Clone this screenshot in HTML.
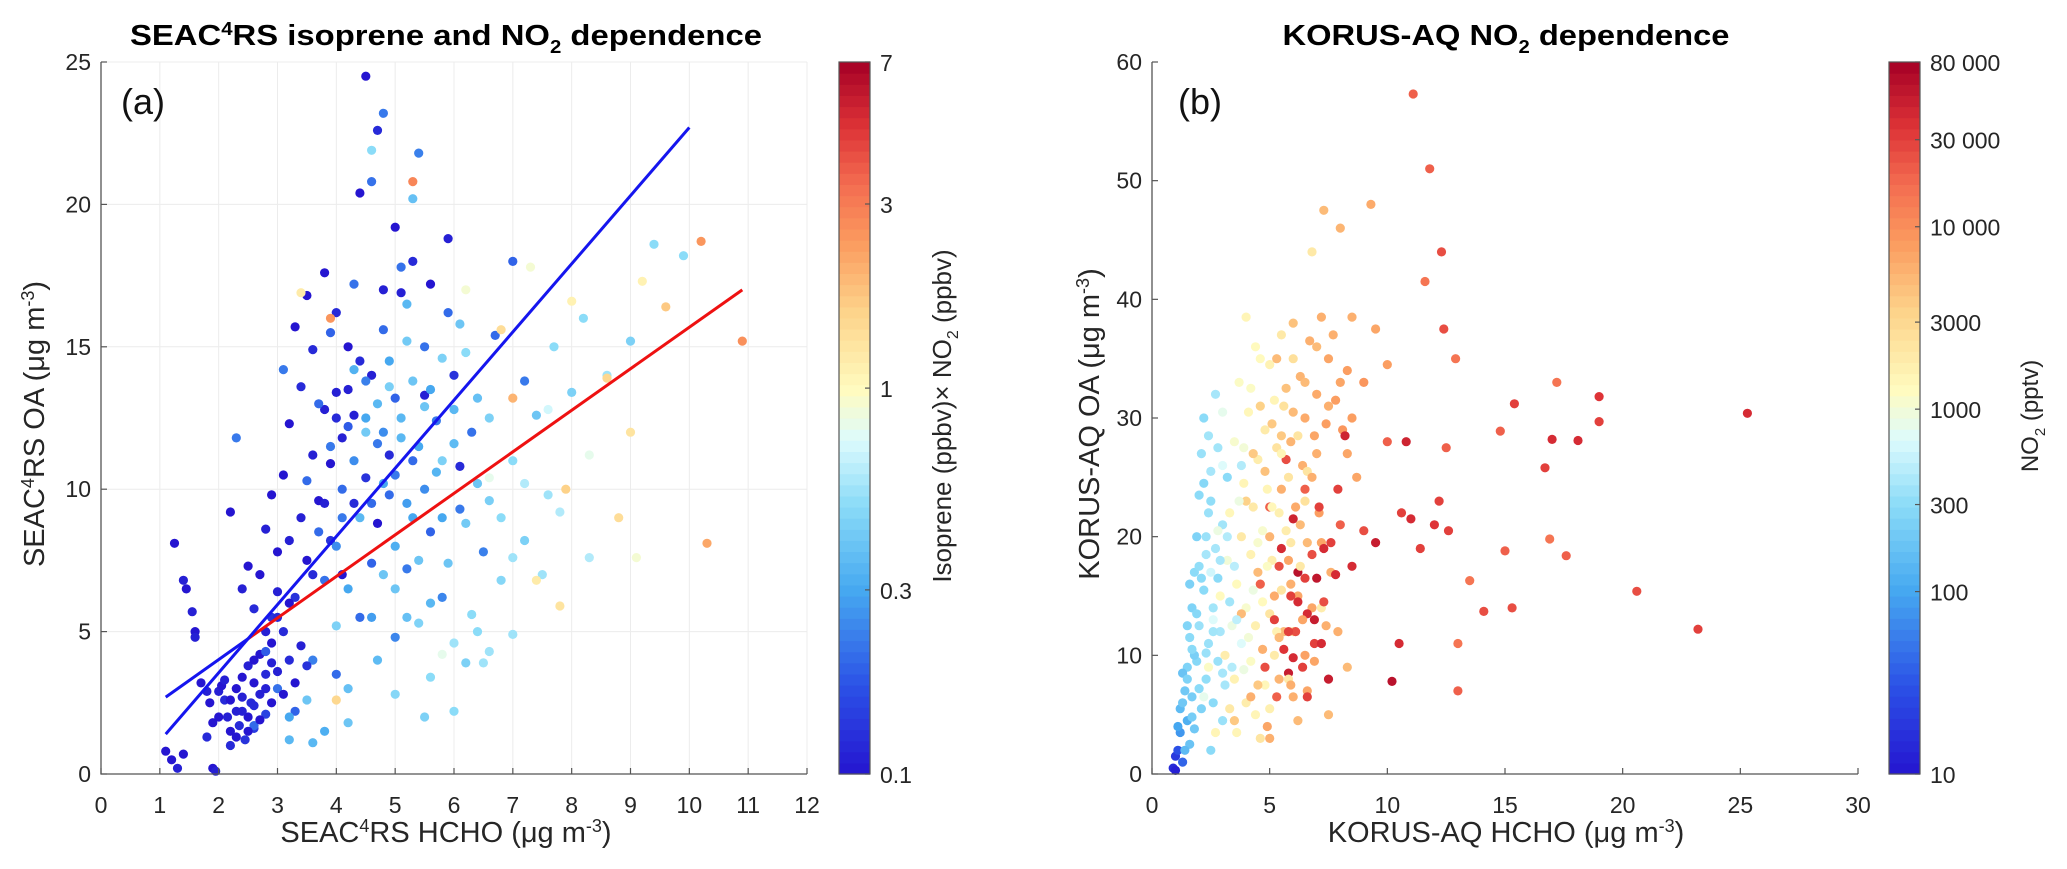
<!DOCTYPE html>
<html><head><meta charset="utf-8"><style>
html,body{margin:0;padding:0;background:#fff;}
svg{display:block;font-family:"Liberation Sans",sans-serif;}
</style></head><body>
<svg id="fig" width="2067" height="869" viewBox="0 0 2067 869" xmlns="http://www.w3.org/2000/svg"></svg>
<script>
// ---------- Panel (a) SEAC4RS data ----------
const seacHcho = [
1.1,1.2,1.3,1.4,1.25,1.4,1.45,1.55,1.6,1.6, 1.7,1.8,1.85,1.9,1.95,1.8,1.9,2.0,2.05,2.1, 2.15,2.2,2.2,2.3,2.3,2.35,2.4,2.4,2.45,2.5, 2.5,2.55,2.6,2.6,2.7,2.7,2.8,2.8,2.9,2.9,
2.2,2.4,2.5,2.6,2.7,2.8,2.9,2.9,3.0,3.0, 3.1,3.1,3.2,3.2,3.3,3.3,3.4,3.4,3.5,3.5, 3.6,3.6,3.7,3.8,3.8,3.9,3.9,4.0,4.0,4.1, 4.1,4.2,4.3,4.3,4.4,4.5,4.5,4.6,4.7,4.7, 4.8,4.9,5.0,5.1,5.3,5.6,5.9,6.0,6.1,5.5,
2.3,2.6,2.8,3.0,3.1,3.3,3.5,3.6,3.7,3.8, 3.9,4.0,4.1,4.2,4.3,4.4,4.5,4.6,4.6,4.7, 4.8,4.8,4.9,5.0,5.0,5.1,5.2,5.3,5.4,5.5, 5.6,5.7,5.8,5.9,6.1,6.3,6.5,6.7,7.0,7.2,
3.2,3.5,3.8,4.0,4.2,4.3,4.5,4.6,4.7,4.8, 4.9,5.0,5.0,5.1,5.2,5.3,5.3,5.4,5.5,5.6, 5.7,5.8,5.9,6.0,6.0,6.2,6.3,6.4,6.5,6.6, 6.8,7.0,7.0,7.2,7.4,7.5,7.7,7.8,8.0,8.2, 8.3,8.6,9.0,9.4,9.9,
3.4,3.9,4.0,5.3,5.8,6.2,6.6,6.8,7.0,7.3, 7.4,7.6,7.8,7.9,8.0,8.3,8.6,8.8,9.0,9.1, 9.2,9.6,10.2,10.3,10.9,
2.0,2.1,2.2,2.3,2.4,2.5,2.6,2.7,2.8,2.9, 3.0,3.1,3.2,3.3,3.4,3.5,2.6,2.8,3.0,3.2,
3.6,3.7,3.8,3.9,4.0,4.1,4.2,4.3,4.4,4.5, 4.6,4.7,4.8,4.9,5.0,5.1,5.2,5.3,5.4,5.5,
4.0,4.2,4.4,4.6,4.8,5.0,5.2,5.4,5.6,5.8, 5.6,5.8,6.0,6.2,6.4,6.6,6.8,7.0,6.1,5.2, 6.2,6.4,6.6,6.0,5.5,4.2,3.6,3.2,7.2,7.6];
const seacOA = [
0.8,0.5,0.2,0.7,8.1,6.8,6.5,5.7,5.0,4.8, 3.2,2.9,2.5,0.2,0.1,1.3,1.8,2.9,3.1,2.6, 2.0,1.5,1.0,3.0,2.2,1.7,3.4,2.7,1.2,2.0, 3.8,2.5,1.6,3.2,2.8,4.2,3.5,2.1,3.9,4.6,
9.2,6.5,7.3,5.8,7.0,8.6,5.5,9.8,6.4,7.8, 5.0,10.5,8.2,12.3,6.2,15.7,9.0,13.6,7.5,16.8, 11.2,14.9,9.6,12.8,17.6,8.2,10.9,13.4,16.2,7.0, 11.8,15.0,9.5,12.6,20.4,24.5,10.4,14.0,22.6,8.8, 17.0,11.2,19.2,16.9,18.0,17.2,18.8,14.0,10.8,13.3,
11.8,1.7,4.3,3.0,14.2,2.2,10.3,4.0,13.0,6.8, 15.5,3.5,9.0,12.2,17.2,5.5,13.8,20.8,7.4,11.6, 15.6,23.2,9.8,4.8,13.2,17.8,7.2,11.0,21.8,15.0, 8.5,12.4,6.2,16.2,9.3,12.0,7.8,15.4,18.0,13.8,
1.2,2.6,1.5,5.2,3.0,14.2,12.0,21.9,4.0,10.2, 13.6,6.5,2.8,11.8,15.2,9.0,20.2,5.3,12.9,3.4, 10.6,14.6,7.4,4.6,11.6,8.8,5.6,13.2,3.9,9.6, 6.8,11.0,4.9,8.2,12.6,7.0,15.0,9.2,13.4,16.0, 7.6,14.0,15.2,18.6,18.2,
16.9,16.0,2.6,20.8,4.2,17.0,10.4,15.6,13.2,17.8, 6.8,12.8,5.9,10.0,16.6,11.2,13.9,9.0,12.0,7.6, 17.3,16.4,18.7,8.1,15.2,
2.0,3.3,2.6,1.3,2.2,1.5,2.4,1.9,3.0,2.5, 3.6,2.8,4.0,3.2,4.5,3.8,4.0,5.0,5.5,6.0,
7.0,8.5,9.5,11.5,12.5,10.0,13.5,11.0,14.5,12.5, 9.5,13.0,12.0,14.5,10.5,12.5,9.5,13.8,11.5,10.0,
8.0,6.5,9.0,5.5,7.0,8.0,5.5,7.5,6.0,9.0, 13.5,11.0,12.8,14.8,10.2,12.5,9.0,7.6,15.8,16.5, 3.9,5.0,4.3,2.2,2.0,1.8,1.1,2.0,10.2,9.8];
const seacIsoNO2 = [
0.1,0.1,0.11,0.1,0.1,0.11,0.1,0.11,0.1,0.11, 0.1,0.11,0.1,0.1,0.11,0.12,0.1,0.11,0.1,0.12, 0.11,0.1,0.12,0.1,0.11,0.12,0.1,0.11,0.13,0.1, 0.11,0.12,0.14,0.1,0.11,0.1,0.12,0.15,0.11,0.1,
0.1,0.11,0.1,0.12,0.1,0.11,0.13,0.1,0.11,0.1, 0.12,0.1,0.11,0.1,0.13,0.1,0.11,0.12,0.1,0.1, 0.11,0.12,0.1,0.11,0.1,0.13,0.1,0.11,0.12,0.1, 0.11,0.1,0.12,0.11,0.1,0.1,0.13,0.11,0.12,0.1, 0.11,0.12,0.1,0.11,0.12,0.1,0.11,0.13,0.12,0.11,
0.22,0.2,0.18,0.21,0.22,0.19,0.2,0.23,0.2,0.21, 0.19,0.2,0.22,0.18,0.21,0.2,0.23,0.21,0.19,0.22, 0.2,0.22,0.2,0.24,0.19,0.21,0.22,0.2,0.23,0.21, 0.19,0.22,0.24,0.2,0.22,0.21,0.23,0.2,0.19,0.22,
0.35,0.4,0.32,0.45,0.38,0.33,0.42,0.5,0.36,0.3, 0.44,0.4,0.48,0.35,0.42,0.3,0.38,0.46,0.4,0.5, 0.34,0.45,0.4,0.55,0.36,0.42,0.5,0.38,0.55,0.44, 0.48,0.5,0.55,0.45,0.4,0.55,0.5,0.6,0.45,0.5, 0.6,0.55,0.45,0.5,0.5,
1.2,2.5,1.5,2.8,0.8,0.9,0.8,1.4,2.0,0.9, 1.2,0.7,1.3,1.6,1.1,0.8,1.5,1.4,1.3,0.9, 1.1,1.7,2.5,2.2,2.6,
0.1,0.11,0.1,0.1,0.11,0.1,0.12,0.1,0.11,0.1, 0.11,0.1,0.12,0.1,0.11,0.13,0.1,0.11,0.12,0.1,
0.12,0.2,0.11,0.22,0.12,0.2,0.11,0.25,0.12,0.3, 0.2,0.35,0.25,0.3,0.22,0.35,0.28,0.4,0.3,0.25,
0.25,0.3,0.35,0.28,0.4,0.32,0.38,0.4,0.35,0.3, 0.3,0.45,0.35,0.5,0.4,0.45,0.5,0.55,0.4,0.35, 0.45,0.5,0.55,0.5,0.45,0.4,0.35,0.3,0.6,0.55];
// Regression lines (endpoints in data units)
const blueFitX = [1.1, 10.0];
const blueFitY = [1.4, 22.7];
const redFitX = [2.5, 10.9];
const redFitY = [4.75, 17.0];
const blueShortX = [1.1, 2.5];
const blueShortY = [2.7, 4.75];
const seacXTicks = [0,1,2,3,4,5,6,7,8,9,10,11,12];
const seacYTicks = [0,5,10,15,20,25];
const seacCbTicks = [0.1,0.3,1,3,7];
const seacCbLabels = ["0.1","0.3","1","3","7"];

// ---------- Panel (b) KORUS-AQ data ----------
const korusHcho = [
0.9,1.0,1.0,1.1,1.2,1.2,1.3,1.4,1.5,1.5, 1.6,1.6,1.7,1.7,1.8,1.8,1.9,1.9,2.0,2.0, 2.1,2.1,2.2,2.2,2.3,2.3,2.4,2.4,2.5,2.5, 2.6,2.6,2.7,2.8,2.8,2.9,3.0,3.0,3.1,3.2, 1.3,1.5,1.8,2.0,2.2,1.6,2.4,2.7,1.1,3.3,
2.2,2.4,2.6,2.7,2.8,2.9,3.0,3.1,3.2,3.3, 3.3,3.4,3.5,3.5,3.6,3.7,3.8,3.8,3.9,4.0, 4.0,4.1,4.2,4.2,4.3,4.4,4.4,4.5,4.6,4.6, 4.7,4.8,4.8,4.9,5.0,5.0,5.1,5.2,5.3,5.4, 5.5,5.5,5.6,5.8,5.9,6.0,6.2,6.5,6.8,7.2, 2.5,3.0,3.6,4.0,5.0,
3.5,3.8,4.0,4.2,4.3,4.5,4.6,4.7,4.8,4.9, 5.0,5.1,5.2,5.3,5.4,5.5,5.6,5.7,5.8,5.9, 6.0,6.0,6.1,6.2,6.3,6.4,6.5,6.5,6.6,6.7, 6.8,6.9,7.0,7.1,7.2,7.3,7.4,7.5,7.6,7.8, 8.0,8.1,8.3,8.5,8.7,9.0,9.3,8.3,7.9,7.5, 5.0,6.2,6.6,9.5,10.0,
4.6,4.8,5.0,5.2,5.3,5.5,5.6,5.7,5.8,5.9, 6.0,6.1,6.2,6.4,6.5,6.6,6.8,6.9,7.0,7.1, 7.3,7.5,7.6,7.8,8.0,8.2,8.5,9.0,9.5,10.0, 10.2,10.5,10.6,10.8,11.0,11.1,11.4,11.6,11.8,12.0, 12.2,12.3,12.5,12.6,12.9,13.0,13.0,13.5,14.1,14.8, 15.3,15.4,16.7,17.0,17.2,17.6,18.1,19.0,19.0,20.6, 23.2,25.3,16.9,15.0,12.4,
1.3,1.5,1.7,1.9,2.1,2.3,2.5,1.4,1.7,2.0, 2.3,2.6,2.9,3.2,3.4,3.6,3.8,3.0,2.8,3.5,
3.9,4.1,4.3,4.5,4.7,4.9,5.1,5.3,5.5,5.7, 3.7,3.9,4.2,4.6,5.2,6.0,6.3,6.6,4.4,5.8,
5.5,6.0,6.5,7.0,7.5,8.0,8.5,6.3,6.8,7.2, 5.9,6.4,5.4,5.9,6.9,7.4,7.0,7.7,8.3,4.5,
5.8,6.2,6.5,6.9,7.2,6.6,7.3,7.9,5.4,6.0];
const korusOA = [
0.5,1.5,0.3,2.0,3.5,5.5,1.0,7.0,4.5,9.0, 2.5,11.5,6.5,14.0,3.8,17.0,9.5,20.0,12.5,23.5, 5.5,27.0,15.5,30.0,8.0,18.5,11.0,22.0,25.5,2.0, 14.0,6.0,19.0,9.5,16.5,12.0,4.5,21.0,7.5,25.0, 8.5,12.5,10.0,17.5,24.5,16.0,28.5,32.0,4.0,14.5,
6.5,9.0,13.0,3.5,20.5,15.0,26.0,10.0,18.0,5.5, 22.0,12.5,28.0,8.0,16.0,33.0,20.0,11.0,24.5,6.0, 14.0,30.5,18.5,9.5,22.5,36.0,12.5,26.5,16.0,3.0, 20.5,29.0,7.5,24.0,13.5,34.5,18.0,10.0,27.5,22.0, 15.5,37.0,31.0,25.0,19.5,12.0,28.5,23.0,44.0,14.0, 17.0,30.5,3.5,38.5,5.5,
4.5,13.5,23.0,6.5,27.0,17.0,31.0,10.5,25.5,4.0, 20.0,29.5,15.0,35.0,8.0,24.0,12.0,32.5,18.0,28.0, 6.5,38.0,22.5,15.0,33.5,26.0,10.0,30.0,19.5,36.5, 14.0,28.5,32.0,22.0,38.5,47.5,29.5,35.0,17.0,31.5, 46.0,29.0,34.0,38.5,25.0,33.0,48.0,9.0,12.0,5.0, 3.0,4.5,7.0,37.5,34.5,
16.0,9.0,22.5,13.0,6.5,19.0,10.5,26.5,8.5,15.0, 21.5,12.0,17.0,9.0,24.0,13.5,18.5,11.0,16.5,22.5, 14.5,8.0,19.5,16.8,21.0,28.5,17.5,20.5,19.5,28.0, 7.8,11.0,22.0,28.0,21.5,57.3,19.0,41.5,51.0,21.0, 23.0,44.0,27.5,20.5,35.0,7.0,11.0,16.3,13.7,28.9, 14.0,31.2,25.8,28.2,33.0,18.4,28.1,31.8,29.7,15.4, 12.2,30.4,19.8,18.8,37.5,
6.0,8.0,10.5,13.5,16.5,20.0,23.0,2.0,4.8,7.2, 10.2,12.0,18.0,20.0,9.0,13.0,26.0,8.5,27.5,17.5,
8.8,11.5,15.5,19.5,14.5,17.5,22.5,12.0,27.0,20.5, 23.0,27.5,32.5,35.0,31.5,35.0,17.5,25.5,5.0,8.0,
28.5,30.5,33.0,27.0,31.0,33.0,30.0,21.0,25.0,19.5, 16.0,13.0,11.5,7.5,9.5,12.5,36.0,37.0,27.0,7.5,
12.0,14.5,16.5,13.0,11.0,6.5,19.0,24.0,17.5,9.8];
const korusNO2 = [
15,20,12,30,80,150,40,200,120,250, 180,300,220,250,200,300,280,250,350,300, 250,350,300,300,320,400,350,350,400,300, 380,300,400,350,300,400,350,380,400,300, 180,260,230,320,280,240,380,400,100,380,
800,1200,700,1500,900,1300,700,1800,1000,2000, 1400,900,1100,1600,1300,1200,2000,700,1500,1800, 1100,1400,1600,1200,2000,1300,1700,1800,1500,2200, 1100,1900,1400,1500,2200,1600,1800,1900,2300,1700, 2200,2000,2400,2200,2000,2400,2200,2400,2000,1800, 600,800,1500,1500,1700,
4000,5000,3500,6000,4000,5000,3500,6000,4500,7000, 5500,4000,6500,5000,5500,6000,5000,4500,7000,5500, 6000,4500,6500,7000,5500,6000,7500,6500,5000,6000, 7000,7000,6500,8000,6000,5000,8000,7000,6000,8000, 5500,9000,8000,6000,7000,9000,6500,5000,6000,5000, 6000,5000,7000,7000,8000,
20000,25000,20000,30000,20000,40000,35000,25000,50000,30000, 45000,25000,60000,30000,20000,40000,25000,30000,55000,30000, 25000,50000,30000,40000,20000,45000,40000,25000,50000,20000, 60000,40000,30000,45000,40000,20000,30000,15000,20000,35000, 30000,25000,20000,30000,15000,20000,15000,15000,25000,20000, 25000,30000,30000,40000,15000,20000,40000,35000,30000,25000, 30000,40000,15000,20000,25000,
200,250,300,280,300,350,320,150,220,300, 350,380,400,450,450,500,450,400,380,480,
900,1000,900,1100,1300,1200,1400,1600,1500,1800, 900,1000,1200,1300,1500,2500,2000,2200,1500,2000,
4000,5000,5000,6000,6000,7000,8000,5000,6000,7000, 6000,7000,5000,6000,7000,6000,5000,6000,7000,4000,
30000,40000,30000,50000,40000,30000,40000,30000,25000,40000];
const korusXTicks = [0,5,10,15,20,25,30];
const korusYTicks = [0,10,20,30,40,50,60];
const korusCbTicks = [10,100,300,1000,3000,10000,30000,80000];
const korusCbLabels = ["10","100","300","1000","3000","10 000","30 000","80 000"];

// ---------- helpers ----------
const NS = "http://www.w3.org/2000/svg";
const svg = document.getElementById("fig");
function mk(tag, attrs, parent){
  const e = document.createElementNS(NS, tag);
  for (const k in attrs) e.setAttribute(k, attrs[k]);
  (parent||svg).appendChild(e);
  return e;
}
const cmapStops = [
 [0.00,[37,21,208]],[0.12,[43,79,230]],[0.26,[70,169,240]],[0.38,[140,220,248]],
 [0.47,[221,251,253]],[0.54,[255,251,191]],[0.65,[253,211,138]],[0.75,[251,154,94]],
 [0.83,[243,107,80]],[0.91,[221,50,54]],[1.00,[165,0,38]]];
function cmap(t){
  t = Math.max(0, Math.min(1, t));
  for (let i=1;i<cmapStops.length;i++){
    if (t <= cmapStops[i][0]){
      const a = cmapStops[i-1], b = cmapStops[i];
      const f = (t-a[0])/(b[0]-a[0]);
      const c = a[1].map((v,j)=>Math.round(v+(b[1][j]-v)*f));
      return "rgb("+c.join(",")+")";
    }
  }
  return "rgb(165,0,38)";
}
const TOP = 62, BOT = 774;
const TXT = "#262626";

function panel(cfg){
  const g = mk("g", {});
  
  
  const sx = v => cfg.x0 + (v - cfg.xmin)/(cfg.xmax - cfg.xmin)*(cfg.x1 - cfg.x0);
  const sy = v => BOT - (v - cfg.ymin)/(cfg.ymax - cfg.ymin)*(BOT - TOP);
  const lc = v => (Math.log(v) - Math.log(cfg.cmin))/(Math.log(cfg.cmax) - Math.log(cfg.cmin));
  if (cfg.grid){
    cfg.xTicks.forEach(t=>{ const l = mk("line",{x1:sx(t),x2:sx(t),y1:TOP,y2:BOT,stroke:"#ececec","stroke-width":1},g);
        });
    cfg.yTicks.forEach(t=>{ const l = mk("line",{x1:cfg.x0,x2:cfg.x1,y1:sy(t),y2:sy(t),stroke:"#ececec","stroke-width":1},g);
        });
  }
  const pg = mk("g",{},g);
  
  
  for (let i=0;i<cfg.xs.length;i++){
    const c = mk("circle",{cx:sx(cfg.xs[i]).toFixed(1),cy:sy(cfg.ys[i]).toFixed(1),r:4.6,fill:cmap(lc(cfg.cs[i]))},pg);
    
    
  }
  (cfg.lines||[]).forEach(L=>{
    const l = mk("line",{x1:sx(L.x[0]),y1:sy(L.y[0]),x2:sx(L.x[1]),y2:sy(L.y[1]),stroke:L.color,"stroke-width":3},g);
    
    
  });
  const ax = mk("path",{d:`M${cfg.x0},${TOP} L${cfg.x0},${BOT} L${cfg.x1},${BOT}`,fill:"none",stroke:"#555","stroke-width":1.3},g);
   
  cfg.xTicks.forEach(t=>{
    mk("line",{x1:sx(t),x2:sx(t),y1:BOT,y2:BOT-6,stroke:"#555","stroke-width":1.2},g);
    const tx = mk("text",{x:sx(t),y:813,"text-anchor":"middle","font-size":23,fill:TXT},g);
    tx.textContent = t;
     
  });
  cfg.yTicks.forEach(t=>{
    mk("line",{x1:cfg.x0,x2:cfg.x0+6,y1:sy(t),y2:sy(t),stroke:"#555","stroke-width":1.2},g);
    const tx = mk("text",{x:cfg.x0-10,y:sy(t)+8,"text-anchor":"end","font-size":23,fill:TXT},g);
    tx.textContent = t;
     
  });
  const cb = mk("g",{},g);
  
  
  const N = 64, h = (BOT-TOP)/N;
  for (let i=0;i<N;i++){
    mk("rect",{x:cfg.cbx,y:BOT-(i+1)*h,width:cfg.cbw,height:h+0.6,fill:cmap((i+0.5)/N)},cb);
  }
  mk("rect",{x:cfg.cbx,y:TOP,width:cfg.cbw,height:BOT-TOP,fill:"none",stroke:"#555","stroke-width":1.2},cb);
  cfg.cbTicks.forEach((t,i)=>{
    const y = BOT - lc(t)*(BOT-TOP);
    mk("line",{x1:cfg.cbx+cfg.cbw-5,x2:cfg.cbx+cfg.cbw,y1:y,y2:y,stroke:"#555","stroke-width":1.2},cb);
    const tx = mk("text",{x:cfg.cbx+cfg.cbw+10,y:y+9,"font-size":23,fill:TXT},cb);
    tx.textContent = cfg.cbLabels[i];
     
  });
  return g;
}

panel({name:"seac4rs-panel", x0:101, x1:807, xmin:0, xmax:12, ymin:0, ymax:25, grid:true,
  xs:seacHcho, ys:seacOA, cs:seacIsoNO2, cmin:0.1, cmax:7,
  xTicks:seacXTicks, yTicks:seacYTicks, cbTicks:seacCbTicks, cbLabels:seacCbLabels,
  cbx:839, cbw:31,
  lines:[{x:redFitX,y:redFitY,color:"#ee1111",name:"red-fit-line"},
         {x:blueFitX,y:blueFitY,color:"#1515ee",name:"blue-fit-line"},
         {x:blueShortX,y:blueShortY,color:"#1515ee",name:"blue-fit-line-low"}]});
panel({name:"korus-aq-panel", x0:1152, x1:1858, xmin:0, xmax:30, ymin:0, ymax:60, grid:false,
  xs:korusHcho, ys:korusOA, cs:korusNO2, cmin:10, cmax:80000,
  xTicks:korusXTicks, yTicks:korusYTicks, cbTicks:korusCbTicks, cbLabels:korusCbLabels,
  cbx:1889, cbw:31});
</script>
<svg style="position:absolute;left:0;top:0" width="2067" height="869" xmlns="http://www.w3.org/2000/svg" font-family="Liberation Sans, sans-serif">
  <text x="446" y="45" text-anchor="middle" font-size="29" font-weight="bold" fill="#000" textLength="632" lengthAdjust="spacingAndGlyphs">SEAC<tspan font-size="18" dy="-10">4</tspan><tspan dy="10">RS isoprene and NO</tspan><tspan font-size="18" dy="8">2</tspan><tspan dy="-8"> dependence</tspan></text>
  <text x="1506" y="45" text-anchor="middle" font-size="29" font-weight="bold" fill="#000" textLength="447" lengthAdjust="spacingAndGlyphs">KORUS-AQ NO<tspan font-size="18" dy="8">2</tspan><tspan dy="-8"> dependence</tspan></text>
  <text x="121" y="114" font-size="36" fill="#111">(a)</text>
  <text x="1178" y="114" font-size="36" fill="#111">(b)</text>
  <text x="446" y="842" text-anchor="middle" font-size="29" fill="#262626">SEAC<tspan font-size="18" dy="-10">4</tspan><tspan dy="10">RS HCHO (μg m</tspan><tspan font-size="18" dy="-10">-3</tspan><tspan dy="10">)</tspan></text>
  <text x="1506" y="842" text-anchor="middle" font-size="29" fill="#262626">KORUS-AQ HCHO (μg m<tspan font-size="18" dy="-10">-3</tspan><tspan dy="10">)</tspan></text>
  <text transform="translate(44,424) rotate(-90)" text-anchor="middle" font-size="29" fill="#262626">SEAC<tspan font-size="18" dy="-10">4</tspan><tspan dy="10">RS OA (μg m</tspan><tspan font-size="18" dy="-10">-3</tspan><tspan dy="10">)</tspan></text>
  <text transform="translate(1099,424) rotate(-90)" text-anchor="middle" font-size="29" fill="#262626">KORUS-AQ OA (μg m<tspan font-size="18" dy="-10">-3</tspan><tspan dy="10">)</tspan></text>
  <text transform="translate(951,416) rotate(-90)" text-anchor="middle" font-size="26" fill="#262626">Isoprene (ppbv)× NO<tspan font-size="16" dy="7">2</tspan><tspan dy="-7"> (ppbv)</tspan></text>
  <text transform="translate(2038,416) rotate(-90)" text-anchor="middle" font-size="24" fill="#262626">NO<tspan font-size="15" dy="7">2</tspan><tspan dy="-7"> (pptv)</tspan></text>
</svg>
</body></html>
